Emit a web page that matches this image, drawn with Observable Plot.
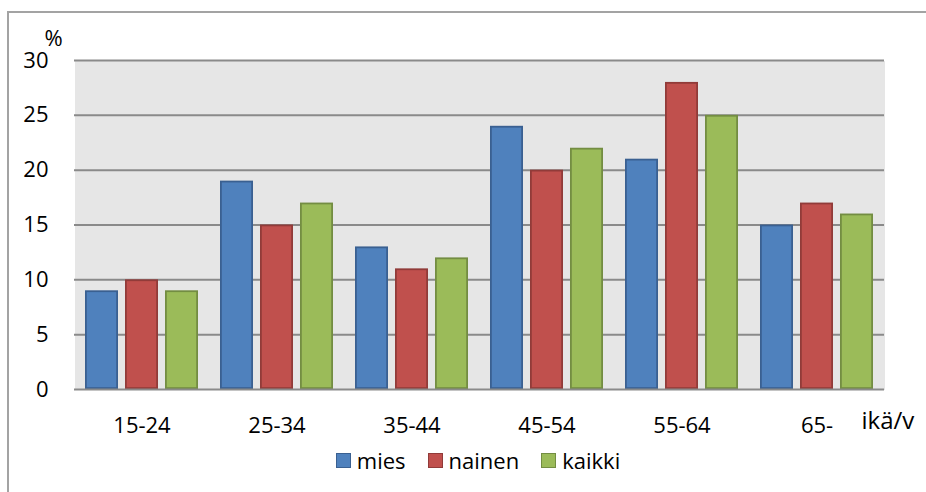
<!DOCTYPE html>
<html>
<head>
<meta charset="utf-8">
<script src="https://cdn.jsdelivr.net/npm/d3@7"></script>
<script src="https://cdn.jsdelivr.net/npm/@observablehq/plot@0.6"></script>
<style>
  html, body { margin: 0; padding: 0; background: #fff; }
  body { width: 926px; height: 492px; position: relative; overflow: hidden; font-family: "Open Sans", sans-serif; }
  #border { position: absolute; left: 7px; top: 11px; width: 1000px; height: 1000px; border: 2px solid #a3a3a3; box-sizing: border-box; pointer-events: none; }
  #legend { display: flex; justify-content: center; align-items: center; gap: 22px; height: 28px; padding-left: 30px; width: 926px; box-sizing: border-box; font-size: 22px; color: #000; }
  .item { display: flex; align-items: center; gap: 6px; }
  .sw { width: 13px; height: 13px; border: 1.5px solid; box-sizing: content-box; }
  svg { display: block; }
</style>
</head>
<body>
<div id="chart"></div>
<div id="legend"></div>
<div id="border"></div>
<script>
const ages = ["15-24", "25-34", "35-44", "45-54", "55-64", "65-"];
const seriesNames = ["mies", "nainen", "kaikki"];
const mies = [9, 19, 13, 24, 21, 15];
const nainen = [10, 15, 11, 20, 28, 17];
const kaikki = [9, 17, 12, 22, 25, 16];
const yTicks = [0, 5, 10, 15, 20, 25, 30];
const fills = ["#4F81BD", "#C0504D", "#9BBB59"];
const strokes = ["#3A6091", "#913B39", "#738D42"];

const values = [mies, nainen, kaikki];
const rows = [];
ages.forEach((a, i) => {
  seriesNames.forEach((s, j) => rows.push({age: a, series: s, value: values[j][i]}));
});

const plot = Plot.plot({
  width: 926,
  height: 446,
  marginTop: 60,
  marginBottom: 57,
  marginLeft: 73,
  marginRight: 41,
  style: {fontFamily: "'Open Sans', sans-serif", color: "#000", background: "transparent"},
  fx: {domain: ages, paddingInner: 0, paddingOuter: 0},
  x: {domain: seriesNames, paddingInner: 0.175, paddingOuter: 0.275, axis: null},
  y: {domain: [0, 30]},
  color: {domain: seriesNames, range: fills},
  marks: [
    Plot.frame({fill: "#e6e6e6", stroke: "none", shapeRendering: "crispEdges"}),
    Plot.gridY(yTicks.slice(1), {stroke: "#8a8a8a", strokeOpacity: 1, strokeWidth: 2}),
    Plot.barY(rows, {
      fx: "age", x: "series", y: "value",
      fill: "series",
      stroke: d => strokes[seriesNames.indexOf(d.series)],
      strokeWidth: 1.8,
      inset: 0.9
    }),
    Plot.ruleY([0], {stroke: "#8a8a8a", strokeWidth: 2}),
    Plot.axisY(yTicks, {tickSize: 0, tickPadding: 26, fontSize: 22, label: null, fill: "#000"}),
    Plot.axisFx({anchor: "bottom", tickSize: 0, tickPadding: 28, fontSize: 22, label: null, fill: "#000"}),
    Plot.text(["%"], {fx: () => ages[0], frameAnchor: "top-left", dx: -30, dy: -30, fontSize: 22, textAnchor: "start", fill: "#000"}),
    Plot.text(["ikä/v"], {fx: () => ages[ages.length - 1], frameAnchor: "bottom-right", dx: -23, dy: 39, fontSize: 24, textAnchor: "start", fill: "#000"})
  ]
});
document.getElementById("chart").appendChild(plot);

const legend = document.getElementById("legend");
seriesNames.forEach((s, j) => {
  const item = document.createElement("div");
  item.className = "item";
  const sw = document.createElement("div");
  sw.className = "sw";
  sw.style.background = fills[j];
  sw.style.borderColor = strokes[j];
  const label = document.createElement("span");
  label.textContent = s;
  item.appendChild(sw);
  item.appendChild(label);
  legend.appendChild(item);
});
</script>
</body>
</html>
